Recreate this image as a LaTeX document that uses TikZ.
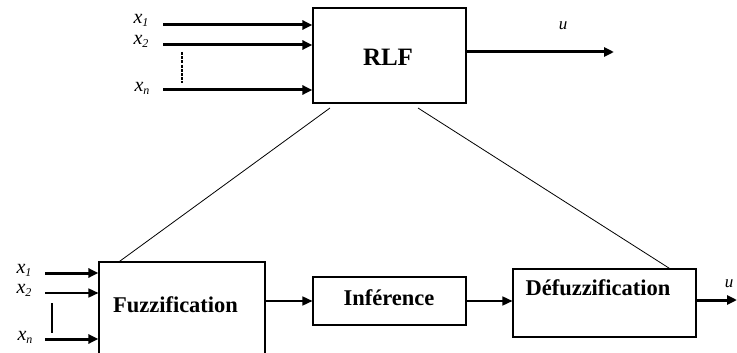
\documentclass[tikz,border=0pt]{standalone}
\usepackage{fontspec}
\setmainfont{Liberation Serif}
\usetikzlibrary{arrows.meta,calc}
\newcommand{\xlab}[1]{{\fontsize{20}{22}\selectfont\itshape x}{\fontsize{12}{13}\selectfont\raisebox{-3pt}{\itshape #1}}}
\begin{document}
\begin{tikzpicture}[x=1pt,y=-1pt,
  blk/.style={draw,line width=1.1pt,rectangle,inner sep=0pt},
  btxt/.style={font=\fontsize{22.5}{26}\selectfont\bfseries,inner sep=0pt},
  lab/.style={inner sep=0pt},
  thickarr/.style={line width=3pt,-{Triangle[length=10pt,width=9pt]}},
  thinarr/.style={line width=1.5pt,-{Triangle[length=10pt,width=9pt]}},
  slant/.style={line width=0.8pt}]
\useasboundingbox (0,0) rectangle (737,353);
\clip (0,0) rectangle (737,353);
% top block
\node[blk,minimum width=153pt,minimum height=95pt] (rlf) at (389.5,55.5) {};
\node[btxt,font=\fontsize{25}{28}\selectfont\bfseries] (rlft) at (388,57) {RLF};
% inputs top
\coordinate (a1) at (163,25);
\coordinate (a2) at (163,45);
\coordinate (an) at (163,90);
\node[lab] (l1) at (141,20) {\xlab{1}};
\node[lab] (l2) at (141,41) {\xlab{2}};
\node[lab] (ln) at (142,88) {\xlab{n}};
\draw[thickarr] (a1) -- (a1 -| rlf.west);
\draw[thickarr] (a2) -- (a2 -| rlf.west);
\draw[thickarr] (an) -- (an -| rlf.west);
\coordinate (d1) at (182,52);
\coordinate (d2) at (182,83);
\draw[line width=2.8pt,dash pattern=on 3pt off 1.2pt] (d1) -- (d2);
% output top
\coordinate (uo) at (614,52);
\draw[thickarr] (rlf.east |- uo) -- (uo);
\node[lab,font=\fontsize{17}{19}\selectfont\itshape] (ul) at (563,26) {u};
% bottom blocks
\node[blk,minimum width=166pt,minimum height=140pt] (fuz) at (182,332) {};
\node[btxt] (fuzt) at (175.5,305) {Fuzzification};
\node[blk,minimum width=153pt,minimum height=48pt] (inf) at (389.5,301) {};
\node[btxt] (inft) at (389,298) {Inférence};
\node[blk,minimum width=183pt,minimum height=68pt] (def) at (604.5,303) {};
\node[btxt] (deft) at (598,288) {Défuzzification};
% inputs bottom
\coordinate (b1) at (45,273);
\coordinate (b2) at (45,293);
\coordinate (bn) at (45,339);
\node[lab] (m1) at (24,270) {\xlab{1}};
\node[lab] (m2) at (24,290) {\xlab{2}};
\node[lab] (mn) at (25,337) {\xlab{n}};
\draw[thickarr] (b1) -- (b1 -| fuz.west);
\draw[thinarr] (b2) -- (b2 -| fuz.west);
\draw[thickarr] (bn) -- (bn -| fuz.west);
\coordinate (e1) at (52,303);
\coordinate (e2) at (52,333);
\draw[line width=2.6pt] (e1) -- (e2);
% chain
\draw[thinarr] (fuz.east |- inf.west) -- (inf.west);
\draw[thinarr] (inf.east) -- (def.west |- inf.east);
\coordinate (uo2) at (737,300);
\draw[thickarr] (def.east |- uo2) -- (uo2);
\node[lab,font=\fontsize{17}{19}\selectfont\itshape] (ul2) at (729,284) {u};
% slant lines
\coordinate (s1) at (330,108);
\coordinate (s2) at (418,108);
\draw[slant] (s1) -- ($(fuz.north west)+(21,0)$);
\draw[slant] (s2) -- ($(def.north east)+(-27,0)$);
\end{tikzpicture}
\end{document}
